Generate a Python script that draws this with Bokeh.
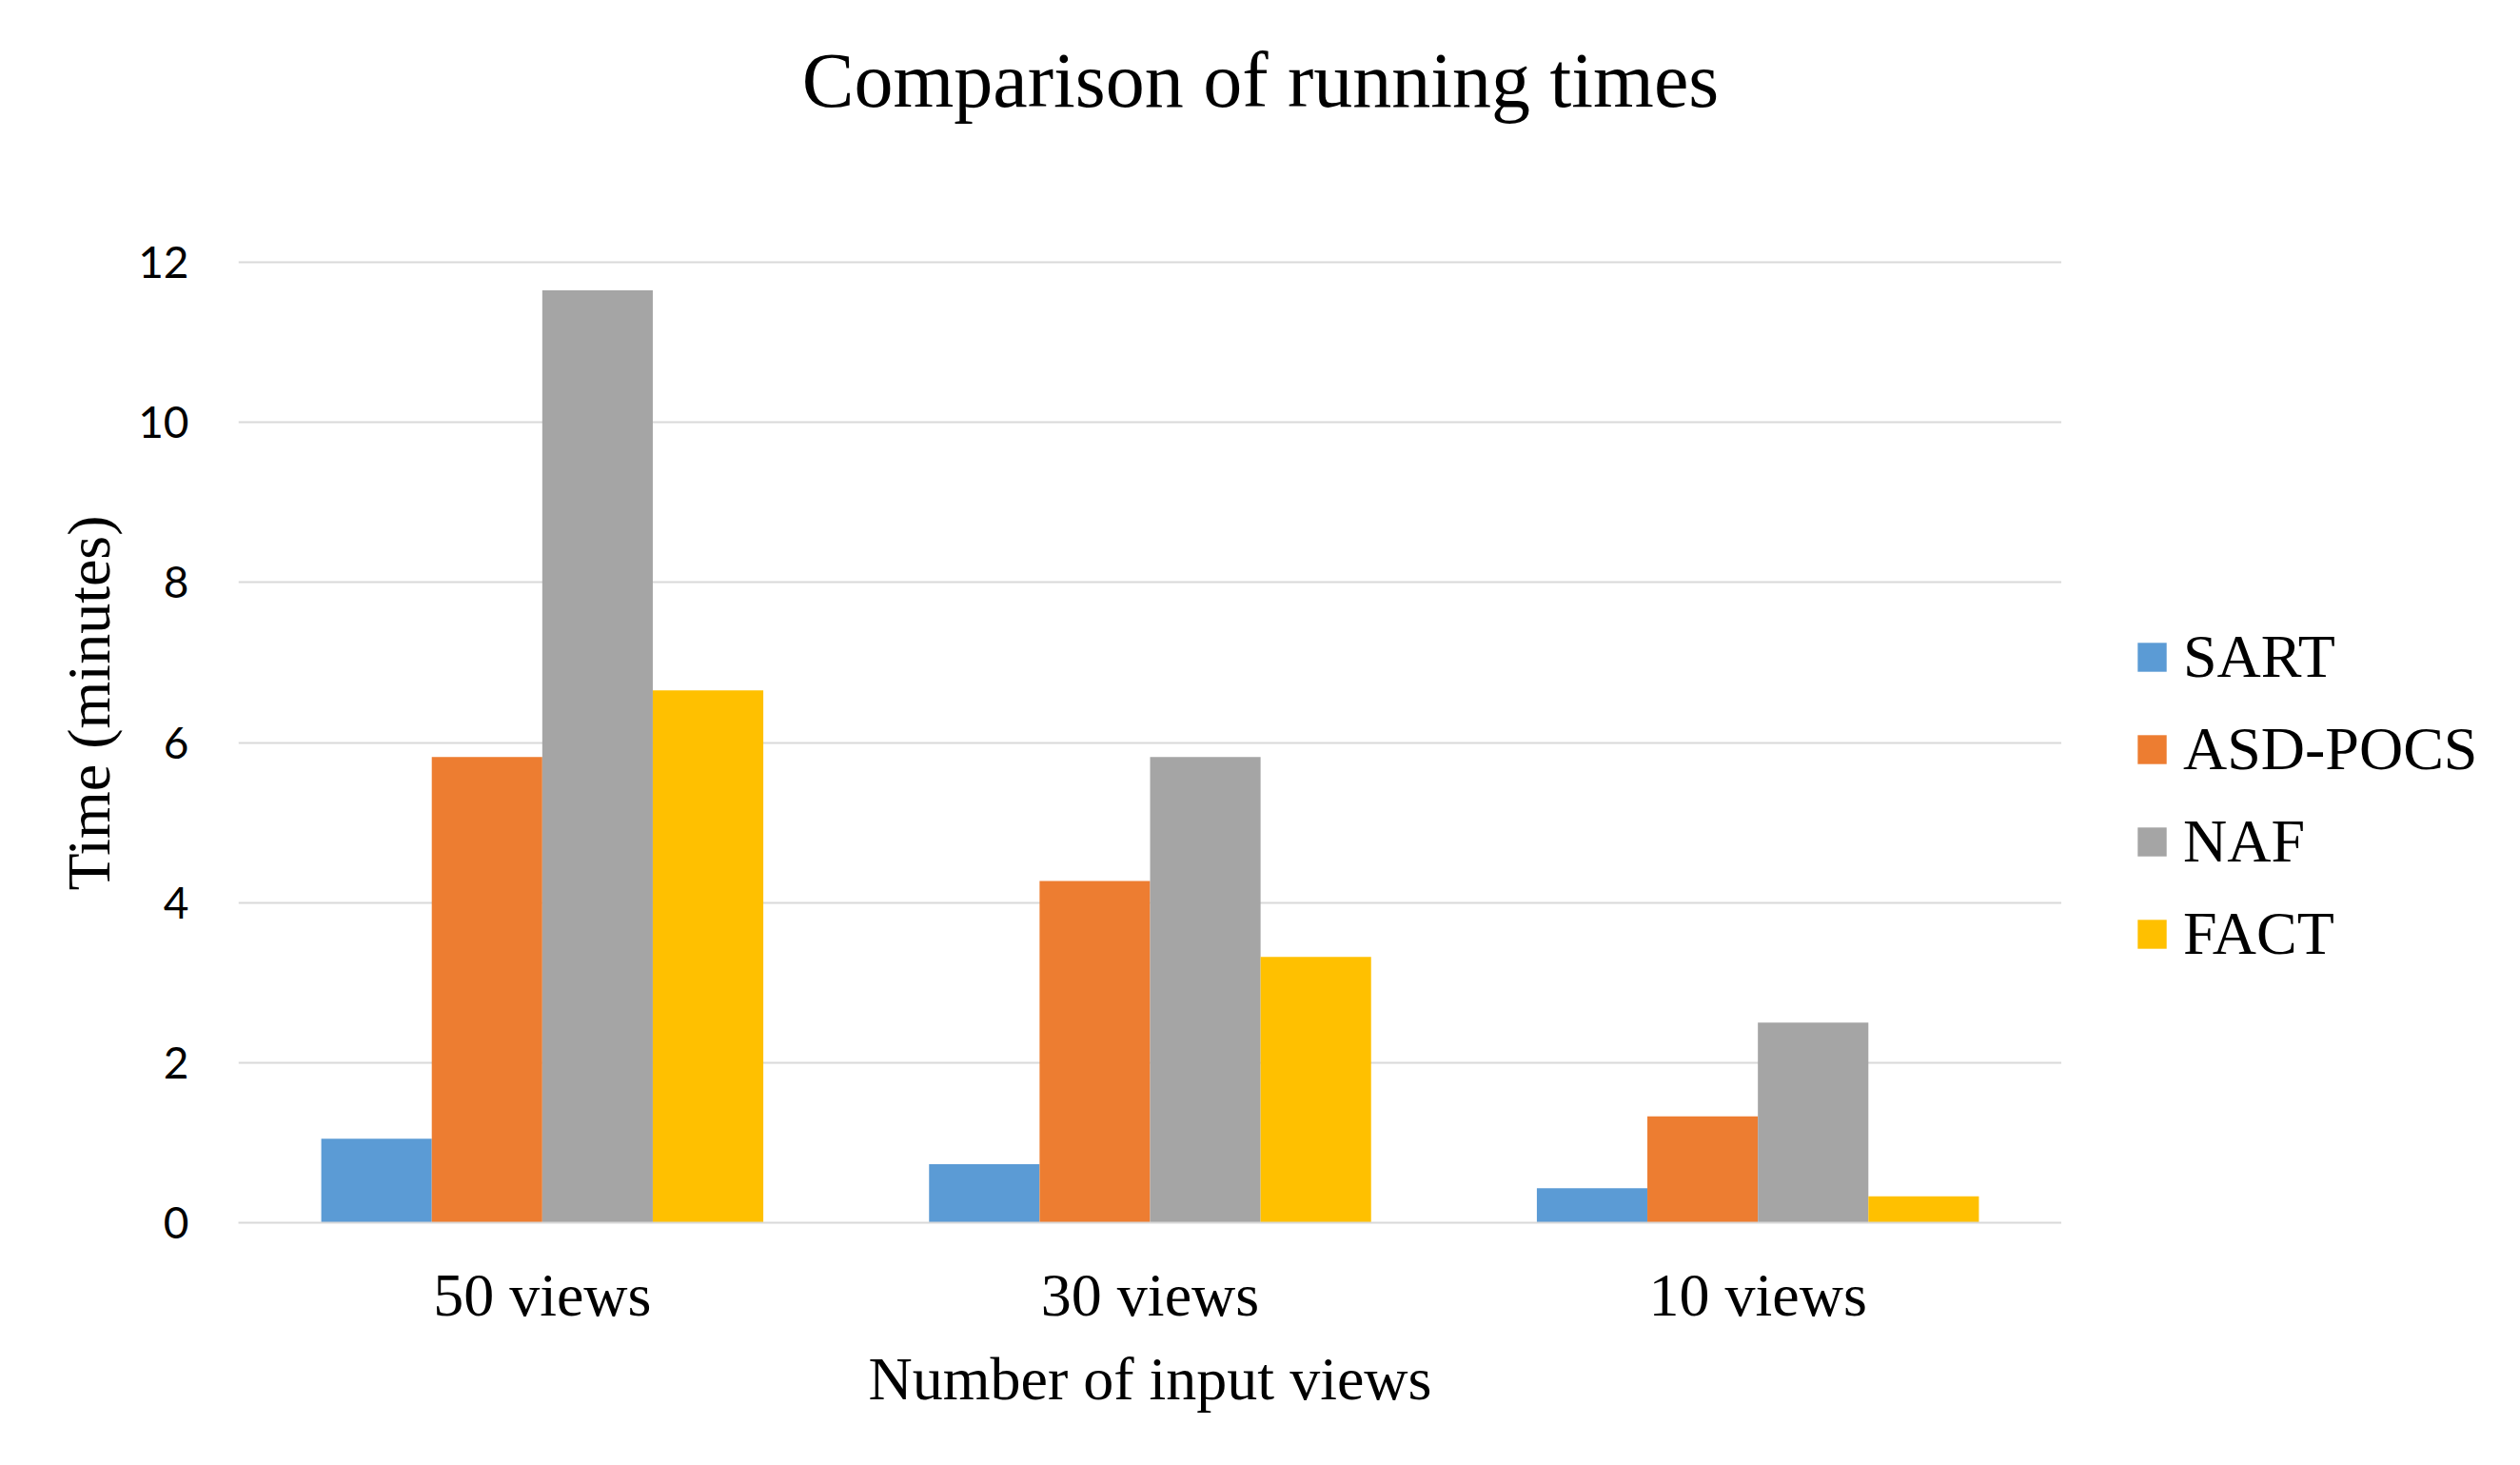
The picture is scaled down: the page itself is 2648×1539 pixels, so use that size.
from bokeh.plotting import figure
from bokeh.layouts import column, row
from bokeh.models import ColumnDataSource, FactorRange, Range1d, FixedTicker, Label, Legend
from bokeh.transform import dodge
from bokeh.embed import file_html
from bokeh.resources import INLINE

categories = ["50 views", "30 views", "10 views"]
series = ["SART", "ASD-POCS", "NAF", "FACT"]
sart = [1.05, 0.73, 0.43]
asd_pocs = [5.82, 4.27, 1.33]
naf = [11.65, 5.82, 2.50]
fact = [6.65, 3.32, 0.33]
y_ticks = [0, 2, 4, 6, 8, 10, 12]
colors = ["#5B9BD5", "#ED7D31", "#A5A5A5", "#FFC000"]

# layout (pixels)
W, H = 2632, 1523
TOP_H = 192            # title strip height
PLOT_L, PLOT_R = 250, 2166
GRID_TOP, PLOT_B = 275, 1284
y_max = y_ticks[-1]
main_h = H - TOP_H
frame_h = PLOT_B - TOP_H
y_end = y_max * frame_h / (PLOT_B - GRID_TOP)


def bare(width, height):
    f = figure(width=width, height=height, x_range=Range1d(0, 1), y_range=Range1d(0, 1),
               output_backend="svg", toolbar_location=None,
               x_axis_location=None, y_axis_location=None,
               min_border_left=0, min_border_right=0, min_border_top=0, min_border_bottom=0)
    f.grid.visible = False
    f.outline_line_color = None
    f.background_fill_color = "white"
    f.border_fill_color = "white"
    return f


# --- title strip
pt = bare(W, TOP_H)
pt.add_layout(Label(x=1324, y=TOP_H - 84, x_units="screen", y_units="screen",
                    text="Comparison of running times", text_font="Liberation Serif",
                    text_font_size="82px", text_align="center", text_baseline="middle",
                    text_color="black"))

# --- main chart
src = ColumnDataSource(dict(cat=categories, SART=sart, ASD=asd_pocs, NAF=naf, FACT=fact))
cols = ["SART", "ASD", "NAF", "FACT"]

p = figure(width=PLOT_R, height=main_h, x_range=FactorRange(*categories), y_range=Range1d(0, y_end),
           output_backend="svg", toolbar_location=None,
           min_border_left=PLOT_L, min_border_right=0, min_border_top=0,
           min_border_bottom=H - PLOT_B)
p.outline_line_color = None
p.background_fill_color = "white"
p.border_fill_color = "white"

bw = 1.0 / 5.5
offsets = [-1.5 * bw, -0.5 * bw, 0.5 * bw, 1.5 * bw]
for col, color, off in zip(cols, colors, offsets):
    p.vbar(x=dodge("cat", off, range=p.x_range), top=col, width=bw, source=src,
           fill_color=color, line_color=None)

p.xgrid.visible = False
p.ygrid.grid_line_color = "#D9D9D9"
p.ygrid.grid_line_width = 2
p.yaxis.ticker = FixedTicker(ticks=y_ticks)

p.yaxis.axis_line_color = None
p.yaxis.major_tick_line_color = None
p.yaxis.minor_tick_line_color = None
p.yaxis.major_tick_in = 0
p.yaxis.major_tick_out = 0
p.yaxis.major_label_standoff = 52
p.yaxis.major_label_text_font = "Lato"
p.yaxis.major_label_text_font_size = "46px"
p.yaxis.major_label_text_color = "black"
p.yaxis.axis_label = "Time (minutes)"
p.yaxis.axis_label_text_font = "Liberation Serif"
p.yaxis.axis_label_text_font_size = "64px"
p.yaxis.axis_label_text_font_style = "normal"
p.yaxis.axis_label_text_color = "black"
p.yaxis.axis_label_standoff = 13

p.xaxis.axis_line_color = "#D9D9D9"
p.xaxis.axis_line_width = 2
p.xaxis.major_tick_line_color = None
p.xaxis.minor_tick_line_color = None
p.xaxis.major_tick_in = 0
p.xaxis.major_tick_out = 0
p.xaxis.major_label_standoff = 40
p.xaxis.major_label_text_font = "Liberation Serif"
p.xaxis.major_label_text_font_size = "64px"
p.xaxis.major_label_text_color = "black"
p.xaxis.axis_label = "Number of input views"
p.xaxis.axis_label_text_font = "Liberation Serif"
p.xaxis.axis_label_text_font_size = "64px"
p.xaxis.axis_label_text_font_style = "normal"
p.xaxis.axis_label_text_color = "black"
p.xaxis.axis_label_standoff = 14

# --- legend strip (frame is aligned with the main frame by the row layout)
pl = bare(W - PLOT_R, main_h)
proxy = ColumnDataSource(dict(x=[0], top=[0]))
items = []
for name, color in zip(series, colors):
    r = pl.vbar(x="x", top="top", width=0, source=proxy, fill_color=color, line_color=None)
    items.append((name, [r]))
legend = Legend(items=items, location=(2242 - PLOT_R, PLOT_B - 1018), orientation="vertical",
                glyph_width=38, glyph_height=38, label_standoff=14,
                label_text_font="Liberation Serif", label_text_font_size="64px",
                label_text_color="black", label_height=74, spacing=23,
                padding=0, margin=0, border_line_color=None, background_fill_alpha=0)
pl.add_layout(legend)

layout = column(pt, row(p, pl, spacing=0), spacing=0)
open("out.html", "w").write(file_html(layout, INLINE))
